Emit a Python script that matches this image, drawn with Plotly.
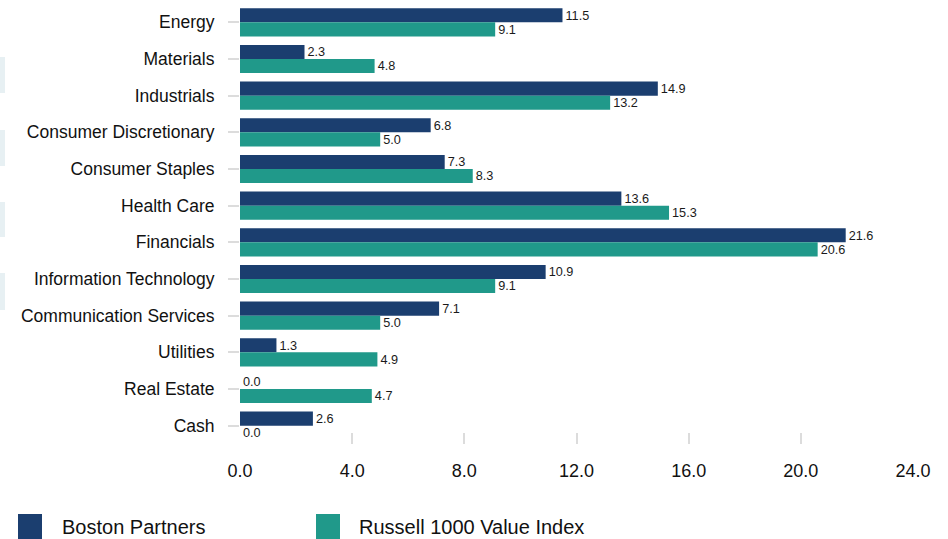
import plotly.graph_objects as go

# Sector weights (%)
sectors = [
    "Energy", "Materials", "Industrials", "Consumer Discretionary",
    "Consumer Staples", "Health Care", "Financials", "Information Technology",
    "Communication Services", "Utilities", "Real Estate", "Cash",
]
boston_partners = [11.5, 2.3, 14.9, 6.8, 7.3, 13.6, 21.6, 10.9, 7.1, 1.3, 0.0, 2.6]
russell_1000_value = [9.1, 4.8, 13.2, 5.0, 8.3, 15.3, 20.6, 9.1, 5.0, 4.9, 4.7, 0.0]
x_ticks = [0, 4, 8, 12, 16, 20, 24]

NAVY = "#1b3e6f"
TEAL = "#20998a"
FONT = "Liberation Sans, Arial, sans-serif"

fig = go.Figure()
for name, vals, col in [
    ("Boston Partners", boston_partners, NAVY),
    ("Russell 1000 Value Index", russell_1000_value, TEAL),
]:
    fig.add_trace(go.Bar(
        name=name, y=sectors, x=vals, orientation="h",
        marker=dict(color=col, line=dict(width=0)),
        text=[f"{v:.1f}" for v in vals], textposition="outside",
        textfont=dict(size=13.5, color="#1a1a1a", family=FONT),
        cliponaxis=False, showlegend=False,
    ))

W, H = 948, 539
L, R, T, B = 240, 35, 4, 95
pw, ph = W - L - R, H - T - B


def px_x(p):
    return (p - L) / pw


def px_y(p):
    return 1 - (p - T) / ph


shapes = []
# faint panels along the left edge
for y0, y1 in [(57, 93), (130, 166), (202, 237), (273, 310)]:
    shapes.append(dict(type="rect", xref="paper", yref="paper",
                       x0=px_x(0), x1=px_x(5), y0=px_y(y1), y1=px_y(y0),
                       fillcolor="#e7f0f3", line=dict(width=0), layer="below"))

# legend swatches and labels
annotations = []
for sx, tx, label, col in [(18, 60, "Boston Partners", NAVY),
                           (316, 357, "Russell 1000 Value Index", TEAL)]:
    shapes.append(dict(type="rect", xref="paper", yref="paper",
                       x0=px_x(sx), x1=px_x(sx + 24), y0=px_y(540), y1=px_y(514),
                       fillcolor=col, line=dict(width=0)))
    annotations.append(dict(xref="paper", yref="paper", x=px_x(tx), y=px_y(527),
                            xanchor="left", yanchor="middle", showarrow=False,
                            text=label, font=dict(size=20, color="#111111", family=FONT)))

fig.update_layout(
    width=W, height=H,
    margin=dict(l=L, r=R, t=T, b=B),
    plot_bgcolor="white", paper_bgcolor="white",
    barmode="group", bargap=0.23, bargroupgap=0,
    font=dict(family=FONT, color="#111111"),
    shapes=shapes, annotations=annotations,
    xaxis=dict(range=[0, 24], tickvals=x_ticks,
               ticktext=[f"{v:.1f}" for v in x_ticks],
               showgrid=False, zeroline=False, showline=False, automargin=False,
               ticks="inside", ticklen=11, tickwidth=2, tickcolor="#dcdcdc",
               ticklabelstandoff=14,
               tickfont=dict(size=18, color="#111111", family=FONT)),
    yaxis=dict(autorange="reversed", showgrid=False, zeroline=False,
               showline=False, automargin=False, ticks="outside", ticklen=11,
               tickwidth=2, tickcolor="#dcdcdc", ticklabelstandoff=10,
               tickfont=dict(size=17.5, color="#111111", family=FONT)),
)

fig.write_html("out.html")
